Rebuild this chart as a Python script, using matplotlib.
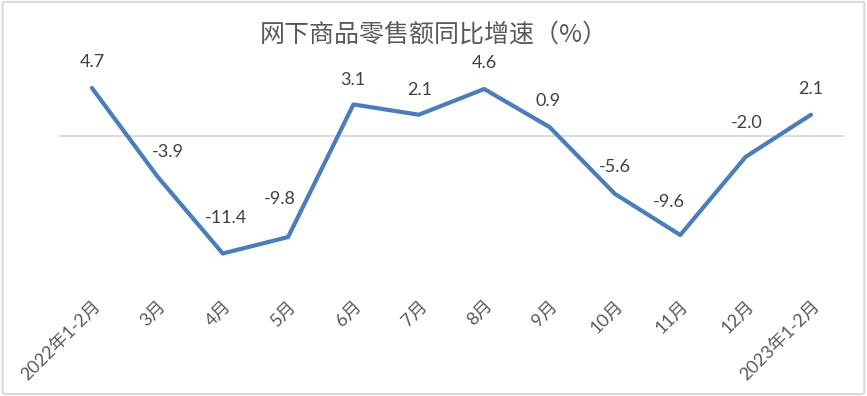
import matplotlib.pyplot as plt
from matplotlib.patches import FancyBboxPatch

plt.rcParams['font.family'] = ['Lato', 'Noto Sans CJK SC', 'DejaVu Sans']

# 数据
months = ['2022年1-2月', '3月', '4月', '5月', '6月', '7月', '8月', '9月',
          '10月', '11月', '12月', '2023年1-2月']
growth = [4.7, -3.9, -11.4, -9.8, 3.1, 2.1, 4.6, 0.9, -5.6, -9.6, -2.0, 2.1]

# label nudges in pixels (dx, dy)
label_shift = [(0, 26), (11, 24), (3, 35), (-8, 38), (-1, 24), (1, 25),
               (0, 26), (-1, 26), (0, 27), (-11, 33), (1, 34), (0, 26)]

fig = plt.figure(figsize=(8.67, 3.96), dpi=100)
ax = fig.add_axes([0.0684, 0.2664, 0.9047, 0.649])

# outer chart border
border = FancyBboxPatch((0.003, 0.005), 0.994, 0.99,
                        boxstyle='round,pad=0,rounding_size=0.004',
                        transform=fig.transFigure, facecolor='white',
                        edgecolor='#d9d9d9', linewidth=1.5, zorder=-10)
fig.patches.append(border)

x = list(range(len(months)))
ax.axhline(0, color='#d9d9d9', linewidth=1.3, zorder=1)
ax.plot(x, growth, color='#4a7ebb', linewidth=3.0, solid_joinstyle='round',
        solid_capstyle='round', zorder=3)

for xi, v, (dx, dy) in zip(x, growth, label_shift):
    ax.annotate(f'{v:.1f}', (xi, v), xytext=(dx * 0.72, dy * 0.72),
                textcoords='offset points', ha='center', va='center',
                fontsize=13, color='#404040')

ax.set_xlim(-0.5, len(months) - 0.5)
ax.set_ylim(-15, 10)
ax.set_yticks([])
ax.set_xticks(x)
ax.set_xticklabels(months, rotation=45, ha='right', rotation_mode='anchor',
                   fontsize=13, color='#595959')
ax.tick_params(axis='x', length=0, pad=5)
for s in ax.spines.values():
    s.set_visible(False)
ax.patch.set_alpha(0)

fig.text(0.5, 0.912, '网下商品零售额同比增速（%）', ha='center', va='center',
         fontsize=18, color='#595959', fontweight='medium',
         family=['Noto Sans CJK SC'])

fig.savefig('out.png', dpi=100)
